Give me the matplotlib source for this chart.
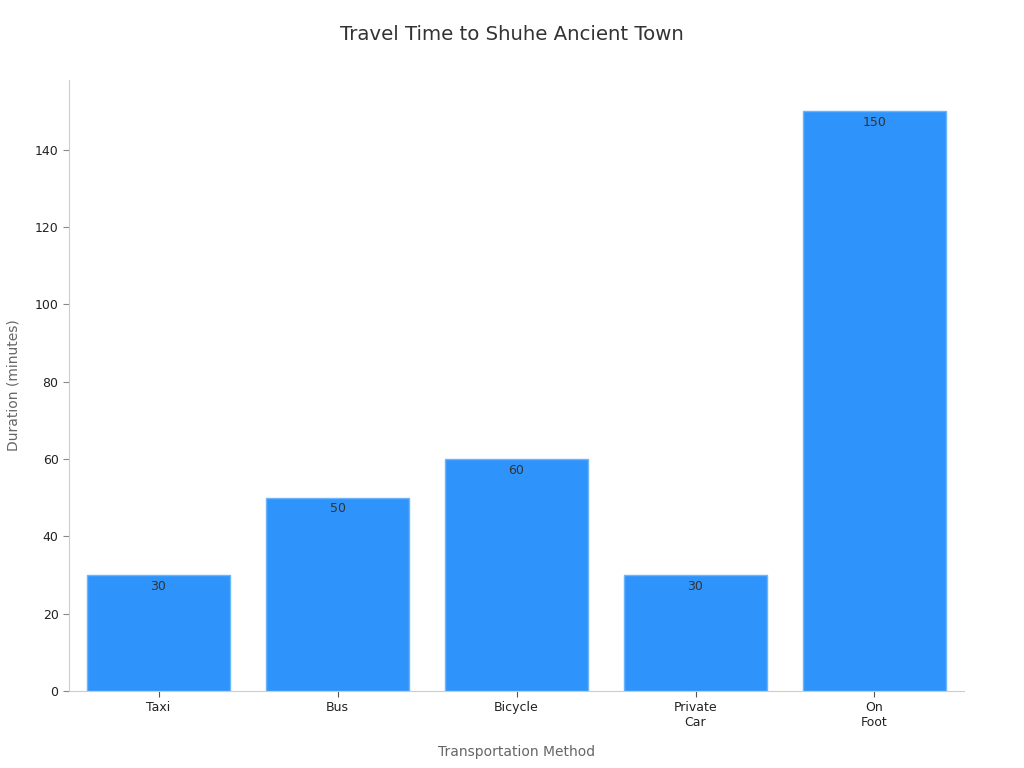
import matplotlib.pyplot as plt
import numpy as np

# data
methods = ['Taxi', 'Bus', 'Bicycle', 'Private\nCar', 'On\nFoot']
minutes = [30, 50, 60, 30, 150]

fig = plt.figure(figsize=(10.24, 7.68), dpi=100)
ax = fig.add_axes([0.0674, 0.1003, 0.874, 0.7955])

x = np.arange(len(methods))
bars = ax.bar(x, minutes, width=0.8, color='#2E93FA', edgecolor='#6CB4FB', linewidth=1)

# value labels just inside the top of each bar
for xi, v in zip(x, minutes):
    ax.text(xi, v - 1.2, str(v), ha='center', va='top', fontsize=9, color='#333333')

ax.set_xlim(-0.5, 4.5)
ax.set_ylim(0, 158)
ax.set_yticks([0, 20, 40, 60, 80, 100, 120, 140])
ax.set_xticks(x)
ax.set_xticklabels(methods, fontsize=9, color='#222222')
ax.tick_params(axis='y', labelsize=9, labelcolor='#222222', color='#888888', length=4)
ax.tick_params(axis='x', color='#555555', length=4)

for s in ['top', 'right']:
    ax.spines[s].set_visible(False)
for s in ['left', 'bottom']:
    ax.spines[s].set_color('#cccccc')

ax.set_xlabel('Transportation Method', fontsize=10, color='#666666', labelpad=11)
ax.set_ylabel('Duration (minutes)', fontsize=10, color='#666666', labelpad=10)
fig.suptitle('Travel Time to Shuhe Ancient Town', fontsize=14.2, color='#333333', y=0.968)

fig.savefig('out.png', dpi=100)
